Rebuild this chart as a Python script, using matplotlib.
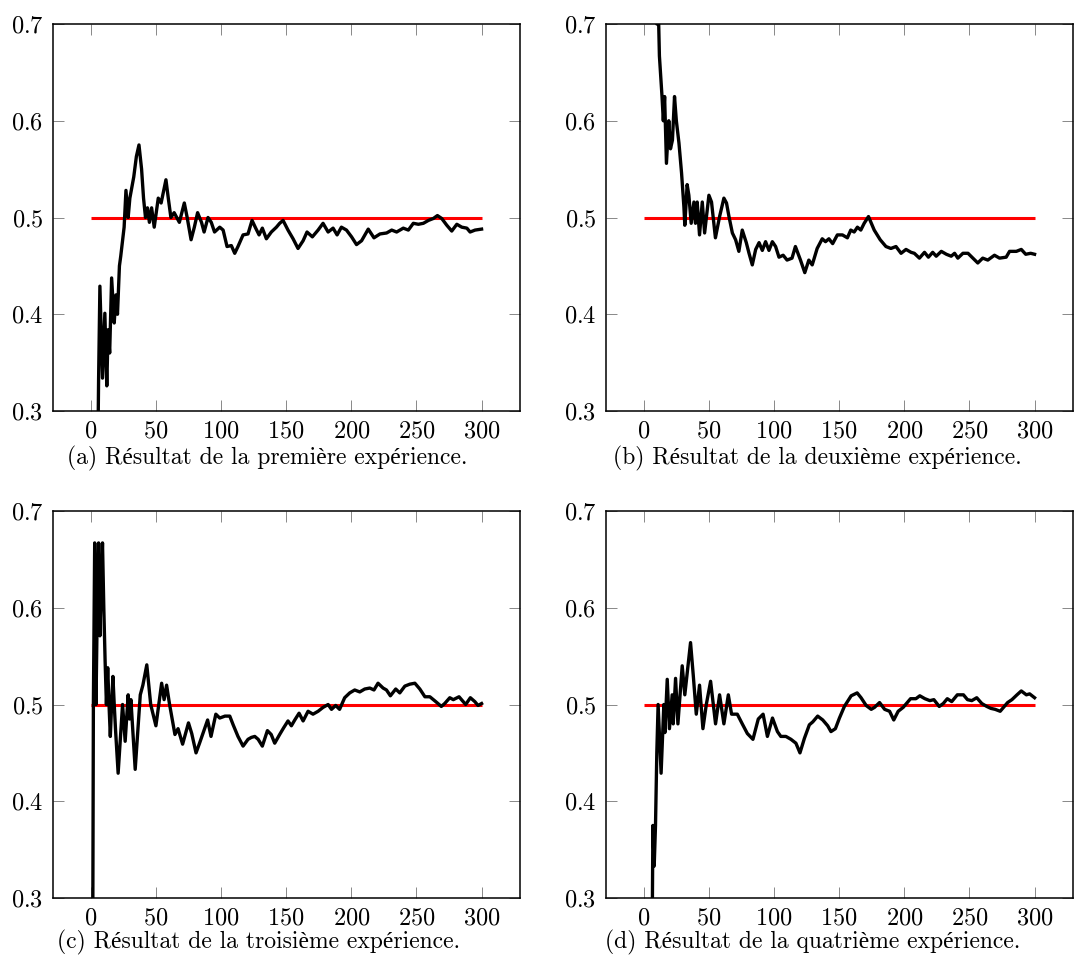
import numpy as np
import matplotlib
matplotlib.use("Agg")
from matplotlib import pyplot as plt

plt.rcParams['font.family'] = ['cmr10', 'Liberation Serif', 'DejaVu Serif']
plt.rcParams['mathtext.fontset'] = 'cm'
plt.rcParams['axes.formatter.use_mathtext'] = True

# valeurs (moyenne cumulée)
xA = [1, 2, 3, 4, 5, 6, 7, 9, 10.8, 12.3, 13.3, 14.5, 16, 18, 19.3, 20.5, 22, 23, 25.6, 27, 28.7, 30, 33, 35, 37, 39,
      40.5, 42, 43.5, 45, 46.7, 48.7, 51.8, 54, 57.7, 59.5, 61.5, 64, 68, 71.8, 74, 77, 79.5, 82, 85, 87, 90, 92.5, 95,
      99, 101.6, 104.6, 107.9, 110.5, 113, 116.9, 120.7, 123.8, 126.6, 129.2, 131.7, 134.8, 138.6, 142.5, 145, 147.6,
      151.4, 155.3, 159.1, 163, 166, 170.1, 174.5, 178.3, 182.2, 186, 189.1, 192.4, 196.3, 200.2, 204, 207.9, 213,
      217.4, 222, 227.1, 231, 234.8, 239.9, 243.8, 247.6, 251.5, 255.3, 259.2, 263, 266.1, 269.4, 273.3, 277.1, 281,
      284.8, 288.7, 291.2, 295, 300]
yA = [0.0, 0.0, 0.0, 0.25, 0.2, 0.333, 0.429, 0.334, 0.401, 0.326, 0.384, 0.36, 0.4375, 0.391, 0.42, 0.40, 0.45, 0.46,
      0.49, 0.528, 0.50, 0.52, 0.542, 0.563, 0.575, 0.55, 0.52, 0.50, 0.51, 0.495, 0.51, 0.49, 0.52, 0.515, 0.539, 0.52,
      0.50, 0.505, 0.495, 0.515, 0.50, 0.477, 0.49, 0.505, 0.495, 0.485, 0.50, 0.495, 0.485,
      0.490, 0.487, 0.470, 0.471, 0.463, 0.470, 0.482, 0.483, 0.497, 0.489, 0.482, 0.489, 0.478, 0.485, 0.490, 0.494,
      0.497, 0.487, 0.478, 0.468, 0.476, 0.485, 0.480, 0.487, 0.494, 0.485, 0.489, 0.482, 0.490, 0.487, 0.480, 0.472,
      0.476, 0.488, 0.479, 0.483, 0.484, 0.487, 0.485, 0.489, 0.487, 0.494, 0.493, 0.494, 0.497, 0.499, 0.502, 0.499,
      0.492, 0.486, 0.493, 0.490, 0.489, 0.485, 0.487, 0.488]

xB = [1, 3, 5, 7, 9, 10, 11, 12, 14, 15, 16, 17.4, 19.2, 20.5, 22, 23.6, 25, 27, 29, 30.8, 31.5, 33.3, 34.6, 36.4,
      38.5, 39.7, 41, 42.8, 44.9, 46.7, 50, 52, 55, 58.2, 61.5, 63.5, 65.4, 68, 70.5, 73, 75.6, 78.7, 80.8, 83.3, 85.9,
      88.5, 91, 93.5, 96.1, 98.7, 101.2, 103.8, 107, 110, 113.8, 116.4, 120.3, 123.6, 126.7, 129.3, 133.1, 137, 139.5,
      142.1, 145, 148.6, 152.5, 156.3, 158.9, 161.5, 164, 166.6, 169.2, 172.5, 176.9, 181.5, 185.9, 189.7, 193.6, 197.5,
      201.3, 205.2, 207.7, 211.6, 215.5, 218.5, 221.8, 224.5, 228.4, 232.3, 236, 238.6, 241.1, 245, 248.9, 256.4, 260.2,
      264.1, 269.2, 273.1, 278.2, 280.8, 286, 289.8, 293.2, 297, 300]
yB = [1.0, 1.0, 0.8, 0.857, 0.778, 0.70, 0.727, 0.667, 0.625, 0.60, 0.625, 0.556, 0.60, 0.571, 0.58, 0.625, 0.60, 0.577,
      0.546, 0.511, 0.492, 0.534, 0.523, 0.494, 0.516, 0.494, 0.516, 0.482, 0.516, 0.484, 0.523, 0.516, 0.479, 0.501,
      0.52, 0.515, 0.501, 0.484, 0.477, 0.465, 0.487, 0.474, 0.463, 0.451, 0.467, 0.474,
      0.466, 0.475, 0.466, 0.475, 0.470, 0.459, 0.461, 0.456, 0.458, 0.470, 0.456, 0.443, 0.456, 0.451, 0.468, 0.478,
      0.475, 0.478, 0.473, 0.482, 0.482, 0.479, 0.487, 0.485, 0.490, 0.487, 0.494, 0.501, 0.487, 0.477, 0.470, 0.468,
      0.470, 0.463, 0.467, 0.464, 0.463, 0.458, 0.464, 0.459, 0.464, 0.460, 0.465, 0.462, 0.460, 0.463, 0.458, 0.463,
      0.463, 0.453, 0.458, 0.456, 0.461, 0.458, 0.459, 0.465, 0.465, 0.467, 0.462, 0.463, 0.462]

xC = [1, 2, 3, 4, 5, 6, 7, 8, 9, 10, 11, 12, 13, 14, 15, 16, 17, 18, 19, 21, 24.4, 26.4, 28.7, 29.7, 30.8, 34.1, 38,
      40, 43, 46, 50, 54.4, 56.3, 58.2, 60.5, 64.6, 67, 70.5, 75, 77.5, 80.8, 83.5, 89.7, 92.3, 96, 99, 103, 106.7,
      109.3, 113, 116.9, 120.7, 123.3, 125.9, 128.5, 131.7, 135.6, 138.5, 141.2, 145, 148.1, 151.4, 154, 156.6, 159.9,
      163, 166.8, 170.6, 174.5, 178.3, 182.2, 184.8, 188, 191, 194.9, 198.8, 202.6, 206.5, 210.3, 214.2, 217.4, 220.5,
      224.4, 227, 230, 234.1, 237.2, 241.1, 244.9, 248.8, 252.6, 256.5, 260.3, 264.8, 269.1, 271.7, 275.6, 278.3, 282.7,
      287.8, 291.4, 294.8, 297.3, 300]
yC = [0.0, 0.5, 0.667, 0.5, 0.6, 0.667, 0.571, 0.625, 0.667, 0.6, 0.545, 0.5, 0.538, 0.5, 0.467, 0.5, 0.529, 0.5, 0.474,
      0.429, 0.5, 0.462, 0.51, 0.485, 0.505, 0.433, 0.51, 0.52, 0.541, 0.50, 0.478, 0.522, 0.505, 0.52, 0.50, 0.469,
      0.475, 0.459, 0.481, 0.47, 0.45, 0.46, 0.484, 0.467, 0.49, 0.486, 0.488, 0.488, 0.479, 0.467, 0.457, 0.464, 0.466,
      0.467, 0.464, 0.457, 0.473, 0.469, 0.460, 0.469, 0.476, 0.483, 0.478, 0.484, 0.491, 0.483, 0.493, 0.490, 0.493,
      0.497, 0.500, 0.495, 0.499, 0.495, 0.507, 0.512, 0.515, 0.513, 0.516, 0.517, 0.515, 0.522, 0.517, 0.515, 0.509,
      0.516, 0.512, 0.519, 0.521, 0.522, 0.516, 0.508, 0.508, 0.503, 0.498, 0.501, 0.507, 0.505, 0.508, 0.500, 0.507,
      0.503, 0.499, 0.501]

xD = [1, 2, 3, 4, 5, 6, 7, 8, 9, 10, 11, 13.3, 15.4, 16.2, 18, 19.7, 21.8, 22.6, 24.4, 26.2, 29.5, 31.5, 35.9, 38,
      40.3, 42.8, 45.4, 48, 51.3, 55.1, 58.2, 61.5, 64.9, 67.4, 71.8, 75.6, 79.5, 83.8, 87.9, 91.6, 94.9, 98.8, 102.6,
      105.2, 109.1, 113, 116.8, 119.9, 123.3, 127.1, 129.7, 133.5, 137.4, 141.2, 143.7, 147.1, 150.2, 154, 159.2, 163.8,
      166.8, 170.7, 174.6, 177.1, 181, 184.9, 188.7, 191.9, 195.3, 199.1, 204.8, 208.9, 211.9, 215.8, 219.6, 222.7,
      226.8, 229.9, 233, 236.4, 240.7, 245.4, 248.5, 251.8, 255.6, 259.5, 263.3, 266.4, 269.7, 273.6, 279.3, 282.6,
      286.5, 289.8, 293.7, 296.2, 300]
yD = [0.0, 0.0, 0.0, 0.0, 0.2, 0.167, 0.375, 0.333, 0.375, 0.45, 0.5, 0.429, 0.5, 0.471, 0.526, 0.475, 0.51, 0.48,
      0.527, 0.48, 0.54, 0.51, 0.564, 0.53, 0.49, 0.52, 0.475, 0.50, 0.524, 0.48, 0.51, 0.48, 0.51, 0.49, 0.49, 0.48,
      0.47, 0.464, 0.485, 0.490, 0.467, 0.486, 0.472, 0.467, 0.467, 0.464, 0.460, 0.450, 0.465, 0.479, 0.482, 0.488,
      0.484, 0.478, 0.472, 0.475, 0.486, 0.498, 0.509, 0.512, 0.507, 0.499, 0.495, 0.497, 0.502, 0.495, 0.493, 0.484,
      0.493, 0.497, 0.506, 0.506, 0.509, 0.506, 0.504, 0.505, 0.498, 0.501, 0.506, 0.503, 0.510, 0.510, 0.505, 0.504,
      0.507, 0.501, 0.498, 0.496, 0.495, 0.493, 0.502, 0.505, 0.510, 0.514, 0.510, 0.511, 0.507]

legendes = ["(a) Résultat de la première expérience.",
            "(b) Résultat de la deuxième expérience.",
            "(c) Résultat de la troisième expérience.",
            "(d) Résultat de la quatrième expérience."]
xticks = [0, 50, 100, 150, 200, 250, 300]
yticks = [0.3, 0.4, 0.5, 0.6, 0.7]
reference = 0.5

fig = plt.figure(figsize=(10.74, 9.77), dpi=100)
W, H = 1074.0, 977.0

# position des axes en pixels (gauche, haut)
positions = [(53, 24), (606, 24), (53, 511), (606, 511)]
largeur, hauteur = 467, 387
centres = [(267, 458), (817, 458), (259, 942), (813, 942)]
donnees = [(xA, yA), (xB, yB), (xC, yC), (xD, yD)]

for i in range(4):
    g, h = positions[i]
    ax = fig.add_axes([g / W, 1 - (h + hauteur) / H, largeur / W, hauteur / H])
    x, y = donnees[i]
    ax.plot([0, 300], [reference, reference], color='red', lw=2.2, solid_capstyle='butt')
    ax.plot(x, y, color='black', lw=2.4)
    ax.set_xlim(-29, 329.5)
    ax.set_ylim(0.3, 0.7)
    ax.set_xticks(xticks)
    ax.set_yticks(yticks)
    ax.tick_params(direction='in', length=8, width=0.7, color='#888888', top=True, right=True,
                   labelsize=17.5, pad=7)
    for s in ax.spines.values():
        s.set_linewidth(1.1)
    cx, cy = centres[i]
    fig.text(cx / W, 1 - cy / H, legendes[i], ha='center', va='center', fontsize=17)

plt.savefig("out.png", dpi=100)
